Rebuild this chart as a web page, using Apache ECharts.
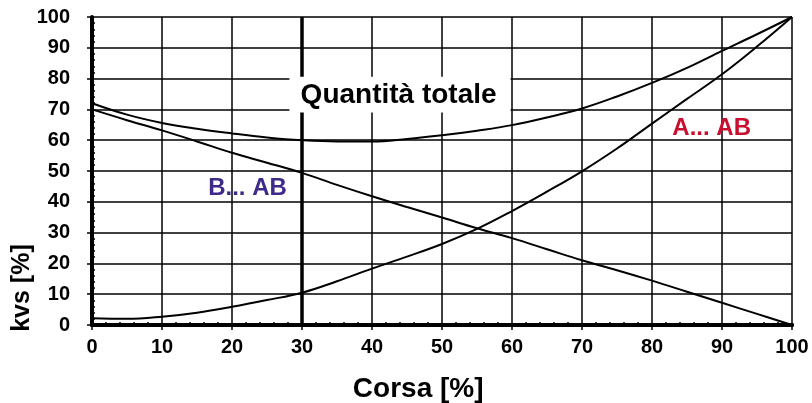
<!DOCTYPE html>
<html>
<head>
<meta charset="utf-8">
<script src="https://cdn.jsdelivr.net/npm/echarts@6/dist/echarts.min.js"></script>
<style>
  html, body { margin: 0; padding: 0; background: #fff; }
  #chart { width: 812px; height: 403px; }
</style>
</head>
<body>
<div id="chart"></div>
<script>
// ---- Data ----
var stroke = [0, 5, 10, 15, 20, 25, 30, 35, 40, 45, 50, 55, 60, 65, 70, 75, 80, 85, 90, 95, 100];
var totale = [72, 68.3, 65.6, 63.7, 62.2, 60.9, 60.0, 59.6, 59.6, 60.4, 61.6, 63.1, 64.9, 67.4, 70.3, 74.2, 78.6, 83.5, 89.0, 94.4, 100];
var aAB    = [2.2, 2.0, 2.7, 4.0, 5.9, 8.1, 10.5, 14.2, 18.3, 22.2, 26.3, 31.2, 37.0, 43.3, 49.9, 57.3, 65.4, 73.4, 81.4, 90.4, 100];
var bAB    = [70, 66.5, 63.2, 59.6, 55.9, 52.7, 49.4, 45.5, 41.8, 38.3, 34.9, 31.4, 28.2, 24.6, 21.0, 17.8, 14.4, 10.8, 7.2, 3.6, 0];
var xTicks = [0, 10, 20, 30, 40, 50, 60, 70, 80, 90, 100];
var yTicks = [0, 10, 20, 30, 40, 50, 60, 70, 80, 90, 100];
var labelTotale = 'Quantità totale';
var labelA = 'A... AB';
var labelB = 'B... AB';
var xName = 'Corsa [%]';
var yName = 'kvs [%]';

function pairs(ys) { return stroke.map(function (x, i) { return [x, ys[i]]; }); }

var FONT = '"Liberation Sans", Arial, sans-serif';
var chart = echarts.init(document.getElementById('chart'), null, { renderer: 'canvas' });

var lineStyle = { color: '#000', width: 2 };
var tickStyle = { color: '#000', width: 1.5 };
var option = {
  animation: false,
  backgroundColor: '#fff',
  grid: { left: 92, right: 20, top: 17, bottom: 78, containLabel: false },
  xAxis: [{
    type: 'value', position: 'bottom', min: 0, max: 100, interval: 10,
    axisLine: { show: true, lineStyle: { color: '#000', width: 4 } },
    axisTick: { show: true, inside: false, length: 5, lineStyle: tickStyle },
    axisLabel: { color: '#000', fontFamily: FONT, fontWeight: 'bold', fontSize: 20, margin: 12,
      formatter: function (v) { return xTicks.indexOf(v) >= 0 ? String(v) : ''; } },
    splitLine: { show: true, lineStyle: { color: '#000', width: 1.5 } }
  }, {
    type: 'value', position: 'top', min: 0, max: 100, interval: 10,
    axisLine: { show: true, lineStyle: { color: '#000', width: 4 } },
    axisTick: { show: false }, axisLabel: { show: false }, splitLine: { show: false }
  }, {
    type: 'value', position: 'bottom', min: 0, max: 100, interval: 10,
    axisLine: { show: false },
    axisTick: { show: false, inside: true },
    minorTick: { show: true, splitNumber: 5, length: 3, lineStyle: tickStyle },
    axisLabel: { show: false }, splitLine: { show: false }
  }],
  yAxis: [{
    type: 'value', position: 'left', min: 0, max: 100, interval: 10,
    axisLine: { show: true, lineStyle: { color: '#000', width: 4 } },
    axisTick: { show: true, inside: false, length: 5, lineStyle: tickStyle },
    axisLabel: { color: '#000', fontFamily: FONT, fontWeight: 'bold', fontSize: 20, margin: 22,
      formatter: function (v) { return yTicks.indexOf(v) >= 0 ? String(v) : ''; } },
    splitLine: { show: true, lineStyle: { color: '#000', width: 1.5 } }
  }, {
    type: 'value', position: 'left', offset: 0, min: 0, max: 100, interval: 10,
    axisLine: { show: false },
    axisTick: { show: false, inside: true },
    minorTick: { show: true, splitNumber: 5, length: 3, lineStyle: tickStyle },
    axisLabel: { show: false }, splitLine: { show: false }
  }],
  series: [
    { name: labelTotale, type: 'line', data: pairs(totale), smooth: 0.4, symbol: 'none', lineStyle: lineStyle, z: 5,
      markLine: { silent: true, symbol: ['none', 'none'], label: { show: false },
        lineStyle: { color: '#000', width: 3.5, type: 'solid' }, data: [{ xAxis: 30 }] } },
    { name: labelA, type: 'line', data: pairs(aAB), smooth: 0.4, symbol: 'none', lineStyle: lineStyle, z: 5 },
    { name: labelB, type: 'line', data: pairs(bAB), smooth: 0.4, symbol: 'none', lineStyle: lineStyle, z: 5 }
  ]
};
chart.setOption(option);

// annotations anchored to data coordinates
function px(x, y) { return chart.convertToPixel({ xAxisIndex: 0, yAxisIndex: 0 }, [x, y]); }
var boxTL = px(28.2, 80.6), boxBR = px(59.8, 69.0);
var qPos = px(29.8, 74.7);
var aPos = px(82.9, 64.0);
var bPos = px(16.6, 44.5);
var xNamePos = px(46.6, 0);
var yNamePos = px(0, 12);

chart.setOption({
  graphic: [
    { type: 'rect', z: 50, shape: { x: boxTL[0], y: boxTL[1], width: boxBR[0] - boxTL[0], height: boxBR[1] - boxTL[1] },
      style: { fill: '#fff' } },
    { type: 'text', z: 51, x: qPos[0], y: qPos[1],
      style: { text: labelTotale, fill: '#000', font: 'bold 28px ' + FONT, textAlign: 'left', textVerticalAlign: 'middle' } },
    { type: 'text', z: 51, x: aPos[0], y: aPos[1],
      style: { text: labelA, fill: '#c8102e', font: 'bold 24px ' + FONT, textAlign: 'left', textVerticalAlign: 'middle' } },
    { type: 'text', z: 51, x: bPos[0], y: bPos[1],
      style: { text: labelB, fill: '#3f2a8a', font: 'bold 24px ' + FONT, textAlign: 'left', textVerticalAlign: 'middle' } },
    { type: 'text', z: 51, x: xNamePos[0], y: xNamePos[1] + 64,
      style: { text: xName, fill: '#000', font: 'bold 28px ' + FONT, textAlign: 'center', textVerticalAlign: 'middle' } },
    { type: 'text', z: 51, x: 22, y: yNamePos[1], rotation: Math.PI / 2,
      style: { text: yName, fill: '#000', font: 'bold 25px ' + FONT, textAlign: 'center', textVerticalAlign: 'middle' } }
  ]
});
</script>
</body>
</html>
